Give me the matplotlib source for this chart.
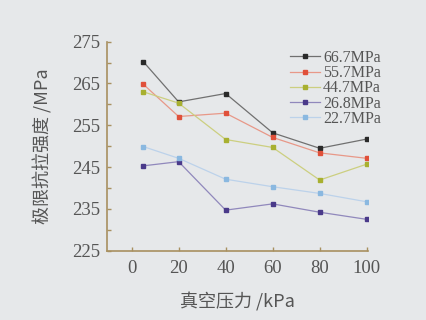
import matplotlib
matplotlib.use("Agg")
import matplotlib.pyplot as plt
from matplotlib.ticker import MultipleLocator

x = [5, 20, 40, 60, 80, 100]
labels = ["66.7MPa", "55.7MPa", "44.7MPa", "26.8MPa", "22.7MPa"]
s667 = [270.2, 260.6, 262.6, 253.2, 249.5, 251.7]
s557 = [264.8, 257.1, 257.9, 252.1, 248.4, 247.1]
s447 = [263.0, 260.3, 251.6, 249.7, 241.9, 245.7]
s268 = [245.3, 246.3, 234.7, 236.2, 234.2, 232.5]
s227 = [249.9, 247.1, 242.1, 240.3, 238.7, 236.7]
series = [s667, s557, s447, s268, s227]
colors = ["#2a2a2a", "#e0503a", "#a8b030", "#4a3a8a", "#8ab8e0"]
linecolors = ["#707070", "#e89888", "#cccf80", "#9088bc", "#bcd2ea"]

bg = "#e6e8ea"
fig = plt.figure(figsize=(4.26, 3.2), dpi=100, facecolor=bg)
ax = fig.add_axes([0.2505, 0.2166, 0.613, 0.6531], facecolor=bg)

for ys, lab, c, lc in zip(series, labels, colors, linecolors):
    ax.plot(x, ys, color=lc, lw=0.9, marker="s", markersize=3.2,
            markerfacecolor=c, markeredgecolor=c, label=lab)

ax.set_xlim(-10.6, 100.5)
ax.set_ylim(225, 275)
ax.set_xticks([0, 20, 40, 60, 80, 100])
ax.yaxis.set_minor_locator(MultipleLocator(5))
ax.set_yticks([225, 235, 245, 255, 265, 275])

spc = "#a89060"
for s in ["top", "right"]:
    ax.spines[s].set_visible(False)
for s in ["left", "bottom"]:
    ax.spines[s].set_color(spc)
    ax.spines[s].set_linewidth(1.2)
ax.tick_params(which="both", direction="in", color=spc, length=3, width=1,
               labelsize=13.5, labelcolor="#555555")
ax.tick_params(axis="x", pad=7)
ax.tick_params(axis="y", pad=5)
for t in ax.get_xticklabels() + ax.get_yticklabels():
    t.set_fontfamily("Liberation Serif")

ax.set_xlabel("真空压力 /kPa", family=["Noto Sans CJK SC", "DejaVu Sans"],
              fontsize=13, color="#555555", labelpad=11)
ax.set_ylabel("极限抗拉强度 /MPa", family=["Noto Sans CJK SC", "DejaVu Sans"],
              fontsize=13, color="#555555", labelpad=14)

leg = ax.legend(loc="upper left", bbox_to_anchor=(0.70, 0.96), frameon=False,
                prop={"family": "Liberation Serif", "size": 11.5},
                labelcolor="#555555", handlelength=1.9, handletextpad=0.2,
                labelspacing=-0.05, borderaxespad=0, borderpad=0)

fig.savefig("out.png", dpi=100, facecolor=bg)
